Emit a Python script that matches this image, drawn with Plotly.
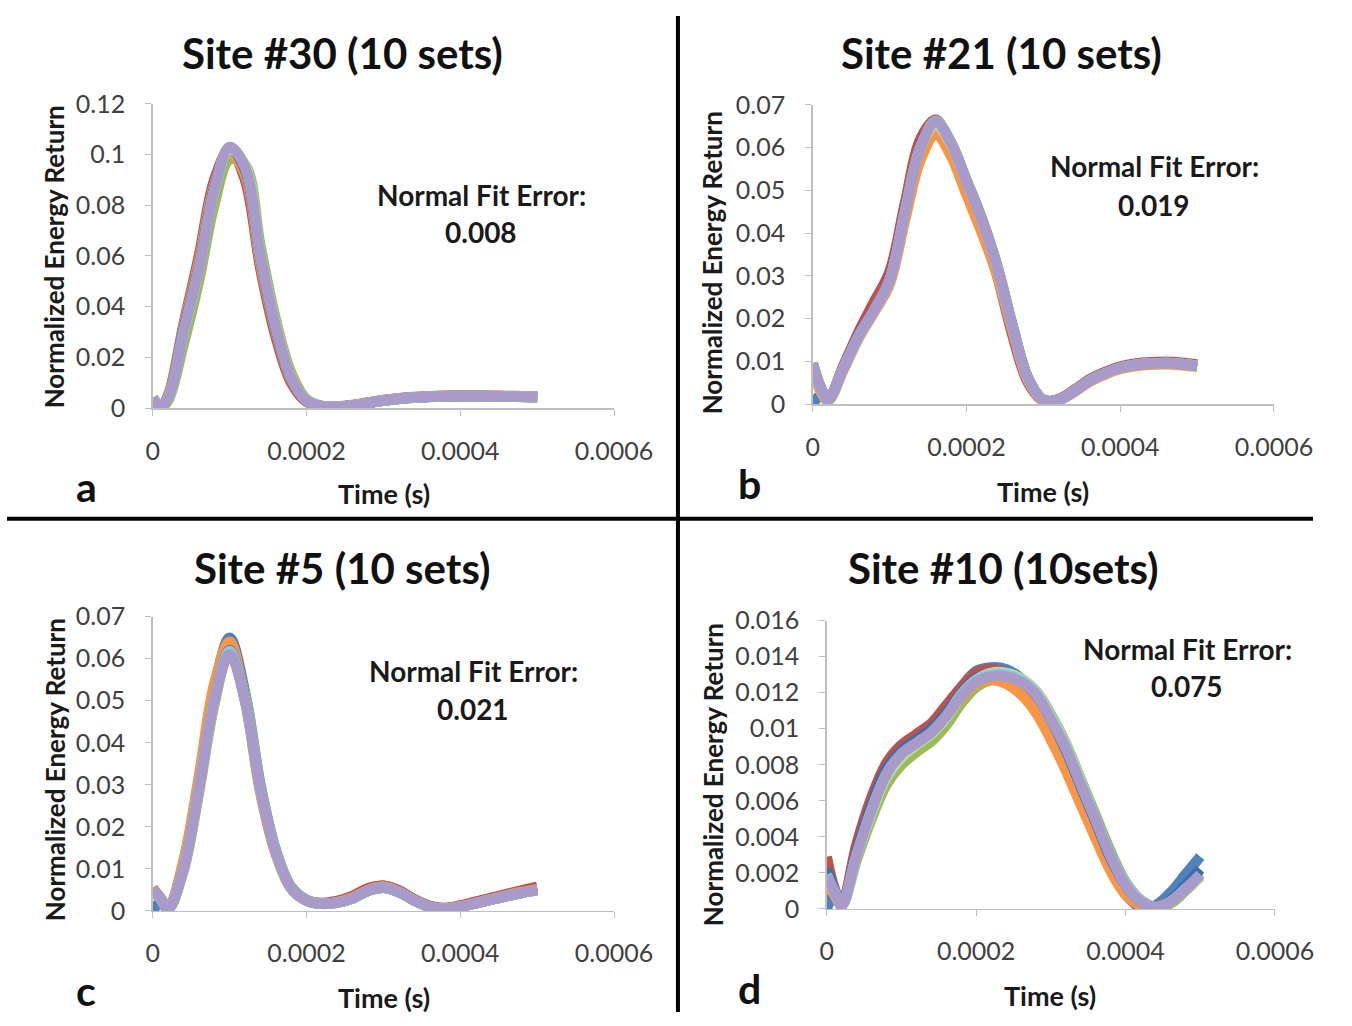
import plotly.graph_objects as go

# ---------------- data ----------------
TIME_S = [0, 0.00001, 0.00002, 0.00004, 0.00006, 0.00008, 0.00010, 0.00012, 0.00014,
          0.00016, 0.00018, 0.00020, 0.00022, 0.00024, 0.00026, 0.00028, 0.00030,
          0.00032, 0.00034, 0.00036, 0.00038, 0.00040, 0.00042, 0.00044, 0.00046,
          0.00048, 0.00050]

SET_COLORS = ['#4F81BD', '#C0504D', '#9BBB59', '#8064A2', '#4BACC6',
              '#F79646', '#3C6EA8', '#B9D7A8', '#8CC8D8', '#A89BCA']

# Site #30
a_set1 = [0.0, 0.0005, 0.0035, 0.028, 0.053, 0.084, 0.102, 0.095, 0.061, 0.033, 0.012, 0.003, 0.0008, 0.0005, 0.001, 0.002, 0.003, 0.0037, 0.0042, 0.0045, 0.0047, 0.0048, 0.0048, 0.0047, 0.0046, 0.0045, 0.0044]
a_set2 = [0.003, 0.0005, 0.005, 0.033, 0.060, 0.090, 0.102, 0.090, 0.055, 0.028, 0.010, 0.0025, 0.0007, 0.0006, 0.0012, 0.0022, 0.0032, 0.0039, 0.0044, 0.0047, 0.0049, 0.0050, 0.0050, 0.0049, 0.0048, 0.0047, 0.0046]
a_set3 = [0.002, 0.0003, 0.003, 0.025, 0.050, 0.080, 0.098, 0.096, 0.064, 0.035, 0.014, 0.0035, 0.0008, 0.0004, 0.0009, 0.0019, 0.0029, 0.0036, 0.0041, 0.0044, 0.0046, 0.0047, 0.0047, 0.0046, 0.0045, 0.0044, 0.0043]
a_set4 = [0.0038, 0.001, 0.004, 0.029, 0.054, 0.085, 0.1025, 0.095, 0.060, 0.032, 0.012, 0.003, 0.0008, 0.0005, 0.001, 0.002, 0.003, 0.0037, 0.0042, 0.0045, 0.0047, 0.0048, 0.0048, 0.0047, 0.0046, 0.0045, 0.0044]
a_set5 = [0.0036, 0.0009, 0.0041, 0.030, 0.055, 0.086, 0.101, 0.094, 0.060, 0.032, 0.012, 0.003, 0.0008, 0.0005, 0.001, 0.002, 0.003, 0.0037, 0.0042, 0.0045, 0.0047, 0.0048, 0.0048, 0.0047, 0.0046, 0.0045, 0.0044]
a_set6 = [0.0035, 0.0008, 0.0047, 0.032, 0.058, 0.088, 0.101, 0.092, 0.057, 0.030, 0.011, 0.003, 0.0008, 0.0005, 0.0011, 0.0021, 0.0031, 0.0038, 0.0043, 0.0046, 0.0048, 0.0049, 0.0049, 0.0048, 0.0047, 0.0046, 0.0045]
a_set7 = [0.004, 0.001, 0.0042, 0.031, 0.056, 0.087, 0.1025, 0.094, 0.059, 0.031, 0.0115, 0.003, 0.0008, 0.0005, 0.001, 0.002, 0.003, 0.0037, 0.0042, 0.0045, 0.0047, 0.0048, 0.0048, 0.0047, 0.0046, 0.0045, 0.0044]
a_set8 = [0.0041, 0.0011, 0.0039, 0.029, 0.054, 0.085, 0.102, 0.096, 0.061, 0.033, 0.0125, 0.0032, 0.0009, 0.0005, 0.001, 0.002, 0.003, 0.0037, 0.0042, 0.0045, 0.0047, 0.0048, 0.0048, 0.0047, 0.0046, 0.0045, 0.0044]
a_set9 = [0.0039, 0.001, 0.004, 0.030, 0.055, 0.086, 0.1028, 0.095, 0.060, 0.032, 0.012, 0.003, 0.0008, 0.0005, 0.001, 0.002, 0.003, 0.0037, 0.0042, 0.0045, 0.0047, 0.0048, 0.0048, 0.0047, 0.0046, 0.0045, 0.0044]
a_set10 = [0.004, 0.001, 0.004, 0.030, 0.055, 0.086, 0.103, 0.095, 0.060, 0.032, 0.012, 0.003, 0.0008, 0.0005, 0.001, 0.002, 0.003, 0.0037, 0.0042, 0.0045, 0.0047, 0.0048, 0.0048, 0.0047, 0.0046, 0.0045, 0.0044]

# Site #21
b_set1 = [0.0, 0.002, 0.001, 0.0085, 0.016, 0.022, 0.029, 0.045, 0.060, 0.066, 0.061, 0.052, 0.043, 0.032, 0.018, 0.006, 0.001, 0.001, 0.003, 0.0055, 0.0072, 0.0085, 0.0092, 0.0095, 0.0096, 0.0094, 0.009]
b_set2 = [0.009, 0.0035, 0.0012, 0.009, 0.017, 0.024, 0.031, 0.047, 0.062, 0.0665, 0.060, 0.051, 0.042, 0.030, 0.016, 0.005, 0.0008, 0.0012, 0.0033, 0.0058, 0.0075, 0.0088, 0.0095, 0.0098, 0.0099, 0.0097, 0.0093]
b_set3 = [0.0092, 0.0038, 0.001, 0.0082, 0.0157, 0.0218, 0.0285, 0.044, 0.059, 0.0655, 0.061, 0.0525, 0.0435, 0.0325, 0.0185, 0.0062, 0.001, 0.001, 0.003, 0.0055, 0.0072, 0.0085, 0.0092, 0.0095, 0.0096, 0.0094, 0.009]
b_set4 = [0.0094, 0.004, 0.001, 0.0086, 0.0162, 0.0222, 0.0292, 0.0452, 0.0602, 0.0658, 0.0608, 0.0518, 0.0428, 0.0318, 0.0178, 0.0059, 0.001, 0.001, 0.003, 0.0055, 0.0072, 0.0085, 0.0092, 0.0095, 0.0096, 0.0094, 0.009]
b_set5 = [0.0093, 0.0039, 0.001, 0.0084, 0.0159, 0.0219, 0.0288, 0.0447, 0.0595, 0.065, 0.0605, 0.0518, 0.043, 0.032, 0.018, 0.006, 0.001, 0.001, 0.003, 0.0055, 0.0072, 0.0085, 0.0092, 0.0095, 0.0096, 0.0094, 0.009]
b_set6 = [0.0085, 0.003, 0.0008, 0.008, 0.0155, 0.0215, 0.028, 0.043, 0.057, 0.063, 0.058, 0.049, 0.040, 0.030, 0.017, 0.0055, 0.0008, 0.0009, 0.0028, 0.0052, 0.0069, 0.0082, 0.0089, 0.0092, 0.0093, 0.0091, 0.0087]
b_set7 = [0.0096, 0.0041, 0.0011, 0.0086, 0.0161, 0.0221, 0.0291, 0.0451, 0.0601, 0.0661, 0.0611, 0.0521, 0.0431, 0.0321, 0.0181, 0.0061, 0.001, 0.001, 0.003, 0.0055, 0.0072, 0.0085, 0.0092, 0.0095, 0.0096, 0.0094, 0.009]
b_set8 = [0.0094, 0.0039, 0.001, 0.0084, 0.0159, 0.0219, 0.0289, 0.0449, 0.0599, 0.0652, 0.0607, 0.0519, 0.0429, 0.0319, 0.0179, 0.0059, 0.001, 0.001, 0.003, 0.0055, 0.0072, 0.0085, 0.0092, 0.0095, 0.0096, 0.0094, 0.009]
b_set9 = [0.0095, 0.004, 0.001, 0.0085, 0.016, 0.022, 0.029, 0.045, 0.060, 0.0662, 0.0612, 0.052, 0.043, 0.032, 0.018, 0.006, 0.001, 0.001, 0.003, 0.0055, 0.0072, 0.0085, 0.0092, 0.0095, 0.0096, 0.0094, 0.009]
b_set10 = [0.0095, 0.004, 0.001, 0.0085, 0.016, 0.022, 0.029, 0.045, 0.060, 0.066, 0.061, 0.052, 0.043, 0.032, 0.018, 0.006, 0.001, 0.001, 0.003, 0.0055, 0.0072, 0.0085, 0.0092, 0.0095, 0.0096, 0.0094, 0.009]

# Site #5
c_set1 = [0.0, 0.002, 0.0005, 0.011, 0.031, 0.053, 0.065, 0.052, 0.030, 0.0145, 0.0057, 0.0026, 0.0018, 0.0022, 0.0033, 0.0052, 0.006, 0.0048, 0.0027, 0.0011, 0.0006, 0.0011, 0.002, 0.0029, 0.0038, 0.0046, 0.0053]
c_set2 = [0.005, 0.0028, 0.0006, 0.0115, 0.031, 0.053, 0.063, 0.0505, 0.0285, 0.0138, 0.0054, 0.0025, 0.0019, 0.0024, 0.0036, 0.0054, 0.006, 0.0049, 0.0028, 0.0012, 0.0007, 0.0013, 0.0022, 0.0031, 0.004, 0.0049, 0.0057]
c_set3 = [0.0048, 0.0028, 0.0004, 0.0095, 0.028, 0.049, 0.0615, 0.0515, 0.030, 0.0145, 0.0057, 0.0026, 0.0017, 0.002, 0.003, 0.0048, 0.0055, 0.0045, 0.0025, 0.001, 0.0005, 0.001, 0.0018, 0.0027, 0.0035, 0.0043, 0.005]
c_set4 = [0.0052, 0.003, 0.0005, 0.0102, 0.0295, 0.0505, 0.0615, 0.0502, 0.029, 0.014, 0.0055, 0.0025, 0.0017, 0.0021, 0.0031, 0.0049, 0.0056, 0.0046, 0.0025, 0.001, 0.0005, 0.001, 0.0018, 0.0027, 0.0036, 0.0044, 0.0051]
c_set5 = [0.0054, 0.0031, 0.0006, 0.0105, 0.030, 0.051, 0.0625, 0.0505, 0.029, 0.014, 0.0055, 0.0025, 0.0017, 0.002, 0.003, 0.0048, 0.0055, 0.0045, 0.0025, 0.001, 0.0005, 0.001, 0.0018, 0.0027, 0.0035, 0.0043, 0.005]
c_set6 = [0.0055, 0.003, 0.0007, 0.012, 0.032, 0.054, 0.064, 0.050, 0.028, 0.0135, 0.0053, 0.0024, 0.0017, 0.0021, 0.0032, 0.005, 0.0058, 0.0046, 0.0026, 0.001, 0.0006, 0.0011, 0.0019, 0.0028, 0.0037, 0.0045, 0.0052]
c_set7 = [0.0051, 0.003, 0.0005, 0.0101, 0.0292, 0.0502, 0.062, 0.0503, 0.0292, 0.0141, 0.0055, 0.0025, 0.0017, 0.002, 0.003, 0.0048, 0.0055, 0.0045, 0.0025, 0.001, 0.0005, 0.001, 0.0018, 0.0027, 0.0035, 0.0043, 0.005]
c_set8 = [0.0049, 0.0029, 0.0005, 0.0099, 0.0289, 0.0499, 0.0612, 0.0501, 0.0291, 0.0141, 0.0055, 0.0025, 0.0017, 0.002, 0.003, 0.0048, 0.0055, 0.0045, 0.0025, 0.001, 0.0005, 0.001, 0.0018, 0.0027, 0.0035, 0.0043, 0.005]
c_set9 = [0.005, 0.003, 0.0005, 0.0103, 0.0293, 0.0503, 0.0618, 0.0502, 0.029, 0.014, 0.0055, 0.0025, 0.0017, 0.002, 0.003, 0.0048, 0.0055, 0.0045, 0.0025, 0.001, 0.0005, 0.001, 0.0018, 0.0027, 0.0035, 0.0043, 0.005]
c_set10 = [0.005, 0.003, 0.0005, 0.010, 0.029, 0.050, 0.061, 0.050, 0.029, 0.014, 0.0055, 0.0025, 0.0017, 0.002, 0.003, 0.0048, 0.0055, 0.0045, 0.0025, 0.001, 0.0005, 0.001, 0.0018, 0.0027, 0.0035, 0.0043, 0.005]

# Site #10
d_set1 = [0.0, 0.0008, 0.0002, 0.0034, 0.006, 0.0079, 0.0089, 0.0096, 0.0102, 0.0112, 0.0123, 0.0132, 0.0134, 0.0133, 0.0128, 0.0118, 0.0102, 0.0085, 0.0064, 0.0043, 0.0023, 0.0008, 0.0001, 0.0002, 0.0009, 0.0019, 0.0029]
d_set2 = [0.0029, 0.0012, 0.0003, 0.0036, 0.0062, 0.0081, 0.0091, 0.0097, 0.0103, 0.0113, 0.0123, 0.0131, 0.0133, 0.0131, 0.0126, 0.0117, 0.0102, 0.0086, 0.0066, 0.0046, 0.0027, 0.0012, 0.0004, 0.0001, 0.0004, 0.0011, 0.0019]
d_set3 = [0.0016, 0.0009, 0.0002, 0.0027, 0.005, 0.0069, 0.008, 0.0087, 0.0093, 0.0102, 0.0114, 0.0123, 0.0127, 0.0128, 0.0127, 0.0121, 0.0108, 0.0092, 0.0072, 0.0052, 0.0032, 0.0015, 0.0005, 0.0001, 0.0003, 0.001, 0.0018]
d_set4 = [0.002, 0.001, 0.0002, 0.0031, 0.0056, 0.0076, 0.0087, 0.0093, 0.0099, 0.0108, 0.0119, 0.0127, 0.013, 0.013, 0.0127, 0.012, 0.0106, 0.009, 0.007, 0.005, 0.003, 0.0014, 0.0005, 0.0001, 0.0004, 0.0011, 0.0019]
d_set5 = [0.0021, 0.0011, 0.0002, 0.0031, 0.0056, 0.0076, 0.0087, 0.0093, 0.0099, 0.0108, 0.0119, 0.0127, 0.013, 0.013, 0.0127, 0.012, 0.0106, 0.009, 0.007, 0.0049, 0.0029, 0.0013, 0.0004, 0.0001, 0.0004, 0.0011, 0.0019]
d_set6 = [0.0015, 0.0008, 0.0002, 0.003, 0.0054, 0.0074, 0.0085, 0.0092, 0.0098, 0.0107, 0.0117, 0.0125, 0.0127, 0.0125, 0.0119, 0.0109, 0.0094, 0.0077, 0.0058, 0.0039, 0.0021, 0.0008, 0.0002, 0.0001, 0.0005, 0.0012, 0.002]
d_set7 = [0.0022, 0.0011, 0.0002, 0.0032, 0.0058, 0.0078, 0.0088, 0.0094, 0.01, 0.0109, 0.012, 0.0128, 0.0131, 0.013, 0.0127, 0.0119, 0.0105, 0.0088, 0.0068, 0.0048, 0.0028, 0.0013, 0.0004, 0.0001, 0.0005, 0.0013, 0.0022]
d_set8 = [0.0017, 0.001, 0.0002, 0.0029, 0.0053, 0.0073, 0.0084, 0.0091, 0.0097, 0.0106, 0.0118, 0.0127, 0.0131, 0.0131, 0.0128, 0.0121, 0.0107, 0.0091, 0.0071, 0.005, 0.003, 0.0014, 0.0005, 0.0001, 0.0004, 0.0011, 0.0018]
d_set9 = [0.0019, 0.001, 0.0002, 0.003, 0.0055, 0.0075, 0.0086, 0.0092, 0.0098, 0.0107, 0.0119, 0.0127, 0.013, 0.013, 0.0127, 0.012, 0.0106, 0.009, 0.007, 0.005, 0.003, 0.0014, 0.0005, 0.0001, 0.0004, 0.0011, 0.0019]
d_set10 = [0.0018, 0.001, 0.0002, 0.003, 0.0055, 0.0075, 0.0086, 0.0092, 0.0098, 0.0107, 0.0118, 0.0126, 0.0129, 0.0129, 0.0126, 0.0119, 0.0105, 0.0089, 0.0069, 0.0049, 0.0029, 0.0013, 0.0004, 0.0001, 0.0004, 0.0011, 0.0019]

PANEL_TITLES = ['Site #30 (10 sets)', 'Site #21 (10 sets)', 'Site #5 (10 sets)', 'Site #10 (10sets)']
PANEL_LETTERS = ['a', 'b', 'c', 'd']
FIT_ERRORS = ['0.008', '0.019', '0.021', '0.075']
Y_MAX = [0.12, 0.07, 0.07, 0.016]
Y_DTICK = [0.02, 0.01, 0.01, 0.002]
X_MAX = 0.0006
X_DTICK = 0.0002

panel_sets = [
    [a_set1, a_set2, a_set3, a_set4, a_set5, a_set6, a_set7, a_set8, a_set9, a_set10],
    [b_set1, b_set2, b_set3, b_set4, b_set5, b_set6, b_set7, b_set8, b_set9, b_set10],
    [c_set1, c_set2, c_set3, c_set4, c_set5, c_set6, c_set7, c_set8, c_set9, c_set10],
    [d_set1, d_set2, d_set3, d_set4, d_set5, d_set6, d_set7, d_set8, d_set9, d_set10],
]

# ---------------- layout ----------------
W, H = 1352, 1026
# the rendered page comes out slightly reduced; target positions (reference pixels)
# are mapped through the inverse of that reduction
SX, OX, SY, OY = 0.9675, 7.0, 0.973, 15.0

def cx(x):
    return (x - OX) / SX

def cy(y):
    return (y - OY) / SY

def px(x):
    return min(max(cx(x) / W, 0.0), 1.0)

def py(y):
    return min(max(1 - cy(y) / H, 0.0), 1.0)

# plot boxes in reference pixels: x0, x1, y_bottom, y_top
BOXES = [(153, 615, 408, 103), (814, 1276, 404, 104), (153, 615, 912, 617), (828, 1277, 910, 621)]
TITLE_POS = [(343, 52), (1003, 52), (343, 568), (1005, 568)]
LETTER_POS = [(87, 487), (751, 484), (86, 992), (751, 990)]
FIT_POS = [(482, 194, 231), (1156, 165, 204), (474, 672, 710), (1189, 649, 687)]
YTITLE_POS = [(55, 256), (714, 262), (55, 770), (714, 775)]
XTITLE_POS = [(385, 494), (1045, 492), (385, 999), (1052, 997)]

FONT = 'Lato'
fig = go.Figure()
annotations = []
for i in range(4):
    x0, x1, yb, yt = BOXES[i]
    n = '' if i == 0 else str(i + 1)
    xa, ya = 'x' + n, 'y' + n
    for k, ys in enumerate(panel_sets[i]):
        fig.add_trace(go.Scatter(
            x=TIME_S, y=ys, mode='lines', xaxis=xa, yaxis=ya,
            line=dict(color=SET_COLORS[k], width=10.5, shape='spline', smoothing=1.0),
            showlegend=False, hoverinfo='skip'))
    axis_common = dict(showgrid=False, zeroline=False, showline=True, linecolor='#BFBFBF',
                       linewidth=1.5, ticks='outside', tickcolor='#BFBFBF', ticklen=6,
                       exponentformat='none', fixedrange=True,
                       tickfont=dict(family=FONT, size=25, color='#404040'))
    fig.layout['xaxis' + n] = dict(domain=[px(x0), px(x1)], range=[0, X_MAX], dtick=X_DTICK,
                                   tick0=0, anchor=ya, ticklabelstandoff=14, **axis_common)
    fig.layout['yaxis' + n] = dict(domain=[py(yb), py(yt)], range=[0, Y_MAX[i]], dtick=Y_DTICK[i],
                                   tick0=0, anchor=xa, ticklabelstandoff=15, **axis_common)
    tx, ty = TITLE_POS[i]
    annotations.append(dict(x=px(tx), y=py(ty), text='<b>' + PANEL_TITLES[i] + '</b>',
                            font=dict(family=FONT, size=42, color='#111111')))
    lx, ly = LETTER_POS[i]
    annotations.append(dict(x=px(lx), y=py(ly), text='<b>' + PANEL_LETTERS[i] + '</b>',
                            font=dict(family=FONT, size=41, color='#111111')))
    fx, fy1, fy2 = FIT_POS[i]
    annotations.append(dict(x=px(fx), y=py(fy1), text='<b>Normal Fit Error:</b>',
                            font=dict(family=FONT, size=28, color='#1a1a1a')))
    annotations.append(dict(x=px(fx), y=py(fy2), text='<b>' + FIT_ERRORS[i] + '</b>',
                            font=dict(family=FONT, size=28, color='#1a1a1a')))
    yx, yy = YTITLE_POS[i]
    annotations.append(dict(x=px(yx), y=py(yy), text='<b>Normalized Energy Return</b>', textangle=-90,
                            font=dict(family=FONT, size=26, color='#1a1a1a')))
    xx, xy = XTITLE_POS[i]
    annotations.append(dict(x=px(xx), y=py(xy), text='<b>Time (s)</b>',
                            font=dict(family=FONT, size=27, color='#1a1a1a')))

for a in annotations:
    a.update(xref='paper', yref='paper', showarrow=False, xanchor='center', yanchor='middle')

shapes = [
    dict(type='line', xref='paper', yref='paper', x0=px(679), x1=px(679), y0=0, y1=1,
         line=dict(color='black', width=4)),
    dict(type='line', xref='paper', yref='paper', x0=0, x1=1, y0=py(519), y1=py(519),
         line=dict(color='black', width=4)),
]

fig.update_layout(width=W, height=H, margin=dict(l=0, r=0, t=0, b=0),
                  paper_bgcolor='white', plot_bgcolor='white', dragmode=False,
                  annotations=annotations, shapes=shapes)

PAGE_FIX = (
    "var de=document.documentElement, b=document.body;"
    "de.style.margin='0'; de.style.padding='0'; de.style.overflow='hidden';"
    "b.style.margin='0'; b.style.padding='0'; b.style.overflow='hidden';"
)
fig.write_html('out.html', config={'displayModeBar': False, 'staticPlot': True}, post_script=PAGE_FIX)
